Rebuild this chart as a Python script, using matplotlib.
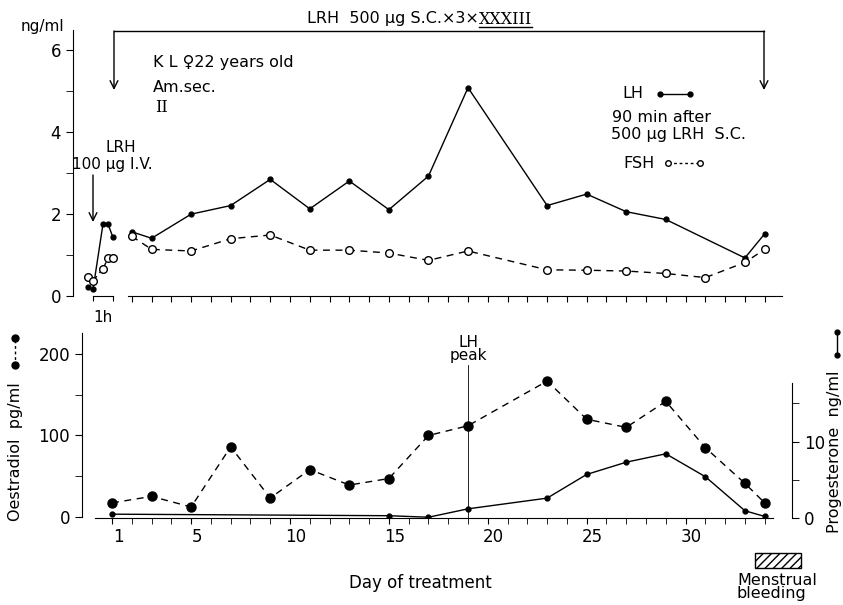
import numpy as np
import matplotlib
matplotlib.use("Agg")
import matplotlib.pyplot as plt
from matplotlib.lines import Line2D
from matplotlib.patches import Rectangle
from matplotlib.transforms import ScaledTranslation, blended_transform_factory

# LH / FSH (ng/ml), one sample per treatment day, 90 min after LRH s.c.
days_lh = [2, 3, 5, 7, 9, 11, 13, 15, 17, 19, 23, 25, 27, 29, 33, 34]
lh = [1.57, 1.41, 2.0, 2.21, 2.85, 2.13, 2.81, 2.11, 2.93, 5.09, 2.21, 2.49, 2.06, 1.87, 0.93, 1.52]
days_fsh = [2, 3, 5, 7, 9, 11, 13, 15, 17, 19, 23, 25, 27, 29, 31, 33, 34]
fsh = [1.46, 1.14, 1.10, 1.40, 1.49, 1.12, 1.12, 1.05, 0.87, 1.10, 0.64, 0.63, 0.61, 0.55, 0.45, 0.82, 1.14]

# 1 h test after 100 ug LRH i.v. (minutes)
minutes = [-15, 0, 30, 45, 60]
lh_1h = [0.21, 0.16, 1.76, 1.76, 1.43]
fsh_1h = [0.47, 0.37, 0.67, 0.92, 0.93]

# oestradiol (pg/ml) and progesterone (ng/ml)
days_e2 = [1, 3, 5, 7, 9, 11, 13, 15, 17, 19, 23, 25, 27, 29, 31, 33, 34]
e2 = [17, 25, 12, 86, 23, 58, 39, 47, 100, 112, 167, 120, 110, 142, 85, 41, 17]
days_p = [1, 15, 17, 19, 23, 25, 27, 29, 31, 33, 34]
prog = [0.5, 0.3, 0.1, 1.2, 2.6, 5.7, 7.3, 8.4, 5.4, 0.95, 0.2]

day_ticks = [1, 5, 10, 15, 20, 25, 30]

W, H = 843, 605


def fx(x):
    return x / W


def fy(y):
    return 1 - y / H


plt.rcParams["font.family"] = ["DejaVu Sans"]
fig = plt.figure(figsize=(W / 100, H / 100), dpi=100)
FS = 11.5
dash = (0, (5, 4))

# ---- top panel: LH / FSH ----
ax_t = fig.add_axes([fx(73), fy(296), fx(790) - fx(73), (296 - 30) / H])
ax_t.set_xlim(-0.972, 35.28)
ax_t.set_ylim(0, 6.5)
ax_t.patch.set_visible(False)
for s in ["top", "right"]:
    ax_t.spines[s].set_visible(False)
ax_t.spines["bottom"].set_bounds(1.8, 34.9)
ax_t.spines["left"].set_bounds(0, 6.5)
ax_t.set_xticks(range(2, 35))
ax_t.tick_params(axis="x", direction="out", length=4, labelbottom=False)
ax_t.set_yticks([0, 2, 4, 6])
ax_t.set_yticks([1, 3, 5], minor=True)
ax_t.tick_params(axis="y", which="both", direction="out", length=5, labelsize=12)

ax_t.plot(days_lh, lh, color="k", lw=1, marker="o", ms=3.5)
ax_t.plot(days_fsh, fsh, color="k", lw=1, ls=dash, marker="o", ms=5.5,
          mfc="white", mew=1)

# 1 hour inset
ax_h = fig.add_axes([fx(80), fy(296), fx(120) - fx(80), (296 - 30) / H])
ax_h.set_xlim(-39, 81)
ax_h.set_ylim(0, 6.5)
ax_h.patch.set_visible(False)
for s in ["top", "right", "left"]:
    ax_h.spines[s].set_visible(False)
ax_h.spines["bottom"].set_bounds(0, 60)
ax_h.set_xticks([0, 60])
ax_h.set_yticks([])
ax_h.tick_params(axis="x", direction="out", length=3.5, labelbottom=False)
ax_h.plot(minutes, lh_1h, color="k", lw=1, marker="o", ms=3.5)
ax_h.plot(minutes, fsh_1h, color="k", lw=1, ls=(0, (3, 3)), marker="o", ms=5.5,
          mfc="white", mew=1)

# ---- bottom panel: oestradiol / progesterone ----
ax_b = fig.add_axes([fx(82), fy(518), fx(792) - fx(82), (518 - 333) / H])
ax_b.set_xlim(-0.517, 35.38)
ax_b.set_ylim(-1.6, 226.2)
ax_b.patch.set_visible(False)
for s in ["top", "right"]:
    ax_b.spines[s].set_visible(False)
ax_b.spines["bottom"].set_bounds(0.15, 34.4)
ax_b.spines["left"].set_bounds(0, 226)
ax_b.set_xticks(day_ticks)
ax_b.set_xticks(range(1, 35), minor=True)
ax_b.tick_params(axis="x", which="both", direction="out", length=4, labelsize=12)
ax_b.set_yticks([0, 100, 200])
ax_b.set_yticks([50, 150], minor=True)
ax_b.tick_params(axis="y", which="both", direction="out", length=5, labelsize=12)
off = ScaledTranslation(0.06, 0, fig.dpi_scale_trans)
for lbl in ax_b.get_xticklabels():
    lbl.set_transform(lbl.get_transform() + off)

ax_p = ax_b.twinx()
ax_p.set_ylim(0, 24.2)
for s in ["top", "left", "bottom"]:
    ax_p.spines[s].set_visible(False)
ax_p.spines["right"].set_bounds(0, 17.7)
ax_p.set_yticks([0, 10])
ax_p.set_yticks([5, 15], minor=True)
ax_p.tick_params(axis="y", which="both", direction="out", length=5, labelsize=12)

ax_b.plot(days_e2, e2, color="k", lw=1, ls=dash, marker="o", ms=6.5)
ax_p.plot(days_p, prog, color="k", lw=1, marker="o", ms=3.5)

# LH peak marker
peak_day = days_lh[int(np.argmax(lh))]
ax_b.axvline(peak_day, ymin=0, ymax=(518 - 365) / (518 - 333), color="k", lw=0.6)
tr = blended_transform_factory(ax_b.transData, fig.transFigure)
ax_b.text(peak_day, fy(349), "LH\npeak", transform=tr, ha="center", va="center",
          fontsize=11, linespacing=0.85)

fig.text(fx(420), fy(583), "Day of treatment", ha="center", va="center", fontsize=12)

# axis titles
fig.text(fx(42), fy(26), "ng/ml", ha="center", va="center", fontsize=11)
fig.text(fx(103), fy(318), "1h", ha="center", va="center", fontsize=11)
fig.text(fx(16), fy(452), "Oestradiol  pg/ml", rotation=90, ha="center",
         va="center", fontsize=FS)
fig.add_artist(Line2D([fx(15), fx(15)], [fy(365), fy(338)], color="k", lw=1,
                      ls=(0, (2, 2)), marker="o", ms=5, transform=fig.transFigure))
fig.text(fx(834), fy(452), "Progesterone  ng/ml", rotation=90, ha="center",
         va="center", fontsize=FS)
fig.add_artist(Line2D([fx(837), fx(837)], [fy(355), fy(332)], color="k", lw=1,
                      marker="o", ms=3.5, transform=fig.transFigure))

# menstrual bleeding box
fig.add_artist(Rectangle((fx(755), fy(568)), fx(801) - fx(755), (568 - 553) / H,
                         transform=fig.transFigure, fill=False, hatch="////",
                         lw=1, ec="k"))
fig.text(fx(737), fy(587), "Menstrual\nbleeding", ha="left", va="center",
         fontsize=FS, linespacing=0.9)

# treatment bracket
fig.add_artist(Line2D([fx(114), fx(764)], [fy(31), fy(31)], color="k", lw=1,
                      transform=fig.transFigure))
for xp in (114, 764):
    ax_t.annotate("", xy=(fx(xp), fy(90)), xytext=(fx(xp), fy(31)),
                  xycoords="figure fraction", textcoords="figure fraction",
                  arrowprops=dict(arrowstyle="->", lw=1, color="k",
                                  mutation_scale=14, shrinkA=0, shrinkB=0))

t1 = fig.text(fx(307), fy(19), "LRH  500 µg S.C.×3×", ha="left", va="center",
              fontsize=FS)
renderer = fig.canvas.get_renderer()
fw = W * fig.dpi / 100
bb = t1.get_window_extent(renderer)
t2 = fig.text(bb.x1 / fw, fy(19), "XXXIII", ha="left", va="center", fontsize=FS,
              family="DejaVu Serif")
bb2 = t2.get_window_extent(renderer)
fig.add_artist(Line2D([bb2.x0 / fw, bb2.x1 / fw], [fy(27), fy(27)], color="k", lw=1,
                      transform=fig.transFigure))

fig.text(fx(153), fy(63), "K L ♀22 years old", ha="left", va="center", fontsize=FS)
fig.text(fx(153), fy(87), "Am.sec.", ha="left", va="center", fontsize=FS)
fig.text(fx(155), fy(107), "II", ha="left", va="center", fontsize=FS,
         family="DejaVu Serif")

# LRH i.v. arrow
fig.text(fx(121), fy(147), "LRH", ha="center", va="center", fontsize=11)
fig.text(fx(112), fy(165), "100 µg I.V.", ha="center", va="center", fontsize=11)
ax_t.annotate("", xy=(fx(93), fy(222)), xytext=(fx(93), fy(175)),
              xycoords="figure fraction", textcoords="figure fraction",
              arrowprops=dict(arrowstyle="->", lw=1, color="k",
                              mutation_scale=14, shrinkA=0, shrinkB=0))

# key
fig.text(fx(622), fy(94), "LH", ha="left", va="center", fontsize=FS)
fig.add_artist(Line2D([fx(660), fx(690)], [fy(94), fy(94)], color="k", lw=1,
                      marker="o", ms=3.5, transform=fig.transFigure))
fig.text(fx(612), fy(118), "90 min after", ha="left", va="center", fontsize=FS)
fig.text(fx(611), fy(134), "500 µg LRH  S.C.", ha="left", va="center", fontsize=FS)
fig.text(fx(623), fy(163), "FSH", ha="left", va="center", fontsize=FS)
fig.add_artist(Line2D([fx(668), fx(700)], [fy(163), fy(163)], color="k", lw=1,
                      ls=(0, (2, 2)), marker="o", ms=4, mfc="white",
                      transform=fig.transFigure))

fig.savefig("out.png", dpi=100)
